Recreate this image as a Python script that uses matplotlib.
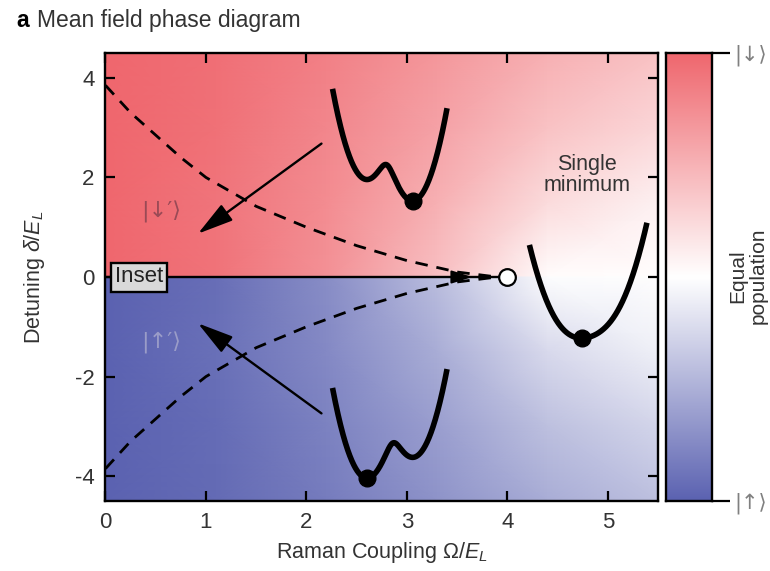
import numpy as np
import matplotlib
matplotlib.use('Agg')
import matplotlib.pyplot as plt
from matplotlib.colors import LinearSegmentedColormap

plt.rcParams['font.family'] = ['Liberation Sans', 'DejaVu Sans']
plt.rcParams['mathtext.fontset'] = 'custom'
plt.rcParams['mathtext.rm'] = 'Liberation Sans'
plt.rcParams['mathtext.it'] = 'Liberation Sans:italic'
plt.rcParams['mathtext.bf'] = 'Liberation Sans:bold'
plt.rcParams['axes.unicode_minus'] = False

# ---------------- data ----------------
omega_lim = [0, 5.5]
delta_lim = [-4.5, 4.5]
x_ticks = [0, 1, 2, 3, 4, 5]
y_ticks = [-4, -2, 0, 2, 4]

# background colour intensity (0 = white, 1 = full colour)
bg_omega = [0.0, 1.1, 2.2, 3.3, 4.4, 5.5]
bg_delta_abs = [0.0, 1.5, 3.0, 4.5]
bg_upper = [[1.00, 0.92, 0.72, 0.42, 0.02, 0.00],
            [1.00, 0.91, 0.75, 0.52, 0.24, 0.10],
            [1.00, 0.93, 0.79, 0.61, 0.40, 0.27],
            [1.00, 0.94, 0.83, 0.68, 0.52, 0.40]]
bg_lower = [[1.00, 0.92, 0.72, 0.42, 0.02, 0.00],
            [1.00, 0.91, 0.75, 0.52, 0.24, 0.10],
            [1.00, 0.93, 0.79, 0.61, 0.40, 0.27],
            [1.00, 0.94, 0.83, 0.68, 0.52, 0.40]]

# metastability boundary (dashed), upper branch; lower branch is mirrored
dash_omega = [0.0, 0.25, 0.5, 0.75, 1.0, 1.5, 2.0, 2.5, 3.0, 3.5, 3.9]
dash_delta = [3.85, 3.3, 2.85, 2.4, 2.0, 1.42, 1.0, 0.63, 0.33, 0.1, 0.0]

critical_omega = 4.0

# dispersion parameters for the three potential sketches: (Omega, delta, q_lo, q_hi)
well_top = (1.0, 0.5, -2.42, 2.44)
well_bottom = (1.0, -0.5, -2.44, 2.42)
well_single = (6.0, -0.5, -2.5, 2.6)

state_labels = ['|\u2191\u27e9', '|\u2193\u27e9']
dressed_labels = ['|\u2193\u2032\u27e9', '|\u2191\u2032\u27e9']

# --------------- figure ---------------
fig = plt.figure(figsize=(7.7, 5.71), dpi=100)
ax = fig.add_axes([105.5/770, 70/571, 552.5/770, 448/571])
cax = fig.add_axes([666/770, 70/571, 46/770, 448/571])

red = '#ef676e'
blue = '#5b62b1'
cmap = LinearSegmentedColormap.from_list('rwb', [blue, 'white', red])

# background
bo = np.array(bg_omega)
bd = np.array(bg_delta_abs)
ax.pcolormesh(bo, bd, np.array(bg_upper), cmap=cmap, vmin=-1, vmax=1,
              shading='gouraud', zorder=0, rasterized=True)
ax.pcolormesh(bo, -bd, -np.array(bg_lower), cmap=cmap, vmin=-1, vmax=1,
              shading='gouraud', zorder=0, rasterized=True)

# dashed boundaries
do = np.array(dash_omega)
dd = np.array(dash_delta)
ax.plot(do, dd, color='k', lw=2.0, dashes=(4.5, 3.2), zorder=2)
ax.plot(do, -dd, color='k', lw=2.0, dashes=(4.5, 3.2), zorder=2)

# first-order line with arrow and critical point
ax.plot([0, critical_omega - 0.07], [0, 0], color='k', lw=1.7, zorder=3)
ax.annotate('', xy=(3.68, 0), xytext=(3.3, 0),
            arrowprops=dict(arrowstyle='-|>,head_length=0.8,head_width=0.25', color='k', lw=1.4,
                            mutation_scale=16), zorder=3)
ax.plot([critical_omega], [0], 'o', ms=12, mfc='white', mec='k', mew=1.6, zorder=4)

# arrows
arrow_kw = dict(arrowstyle='-|>,head_length=1.1,head_width=0.3', color='k', lw=1.7,
                mutation_scale=20, shrinkA=0, shrinkB=0)
ax.annotate('', xy=(0.92, 0.87), xytext=(2.15, 2.68), arrowprops=arrow_kw, zorder=3)
ax.annotate('', xy=(0.92, -0.93), xytext=(2.15, -2.74), arrowprops=arrow_kw, zorder=3)

# dressed-state labels
ket_font = ['DejaVu Sans', 'Liberation Sans']
ax.text(0.55, 1.3, dressed_labels[0], color='#9a4a56', fontsize=16, ha='center', va='center',
        zorder=6, family=ket_font)
ax.text(0.55, -1.33, dressed_labels[1], color='#9a9cc8', fontsize=16, ha='center', va='center',
        zorder=6, family=ket_font)

ax.text(4.79, 2.05, 'Single\nminimum', color='#333333', fontsize=15.5, ha='center', va='center',
        linespacing=1.05)

ax.text(0.335, 0, 'Inset', fontsize=16, color='#222222', ha='center', va='center', zorder=6,
        bbox=dict(boxstyle='square,pad=0.18', fc='#d9d9d9', ec='k', lw=1.7))


def lower_band(q, Om, d):
    a = 2*q + d/2
    return q**2 + 1 - np.sqrt(a**2 + (Om/2)**2)


def draw_well(params, bounds):
    Omw, dw, qlo, qhi = params
    qq = np.linspace(qlo, qhi, 400)
    E = lower_band(qq, Omw, dw)
    iax = ax.inset_axes(bounds, transform=ax.transData, zorder=5)
    iax.plot(qq, E, color='k', lw=4.0, solid_capstyle='butt', clip_on=False)
    k = np.argmin(E)
    iax.plot(qq[k], E[k], 'o', color='k', ms=12, clip_on=False)
    iax.set_xlim(qlo, qhi)
    iax.set_ylim(E.min(), E.max())
    iax.axis('off')
    iax.patch.set_alpha(0)


draw_well(well_top, [2.26, 1.53, 1.14, 2.25])
draw_well(well_bottom, [2.26, -4.04, 1.14, 2.19])
draw_well(well_single, [4.22, -1.23, 1.17, 2.32])

ax.set_xlim(omega_lim)
ax.set_ylim(delta_lim)
ax.set_xticks(x_ticks)
ax.set_yticks(y_ticks)
ax.tick_params(direction='in', length=7, width=1.6, top=True, right=True,
               labelsize=16, labelcolor='#333333', pad=8)
for s in ax.spines.values():
    s.set_linewidth(1.7)
ax.set_xlabel(r'Raman Coupling $\Omega/E_L$', fontsize=15.5, color='#333333', labelpad=5)
ax.set_ylabel(r'Detuning $\delta/E_L$', fontsize=15.5, color='#333333', labelpad=20)

# colorbar
grad = np.linspace(-1, 1, 256)[:, None]
cax.imshow(grad, origin='lower', extent=[0, 1, -1, 1], cmap=cmap, vmin=-1, vmax=1, aspect='auto')
cax.set_xlim(0, 1)
cax.set_ylim(-1, 1)
cax.set_xticks([])
cax.yaxis.tick_right()
cax.set_yticks([-1, 1])
cax.set_yticklabels(state_labels, family=ket_font)
cax.tick_params(axis='y', direction='out', length=13, width=1.6, labelsize=15, labelcolor='#808080', pad=3)
for s in cax.spines.values():
    s.set_linewidth(1.7)
fig.text(748/770, 1 - 276/571, 'Equal\npopulation', rotation=90, ha='center', va='center',
         fontsize=15, color='#333333', linespacing=1.1)

# title
fig.text(16/770, 1 - 27/571, 'a', fontsize=16.5, fontweight='bold', va='baseline')
fig.text(37/770, 1 - 27/571, 'Mean field phase diagram', fontsize=16.5, color='#333333', va='baseline')

fig.savefig('out.png', dpi=100)
